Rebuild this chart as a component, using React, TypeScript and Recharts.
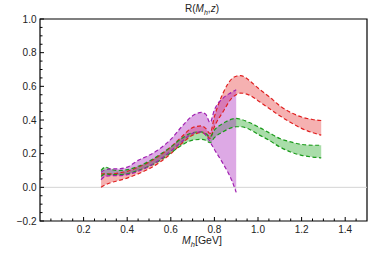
import React from 'react';
import { ComposedChart, Area, Line, XAxis, YAxis, ReferenceLine, ReferenceArea } from 'recharts';

const masses = [0.28, 0.30, 0.33, 0.36, 0.40, 0.45, 0.50, 0.55, 0.60, 0.65, 0.70, 0.74, 0.76, 0.78, 0.80, 0.84, 0.88, 0.90, 0.92, 0.96, 1.00, 1.05, 1.10, 1.15, 1.20, 1.25, 1.29];

const redLow = [0.0, 0.015, 0.03, 0.04, 0.055, 0.08, 0.11, 0.15, 0.20, 0.26, 0.31, 0.325, 0.315, 0.29, 0.36, 0.45, 0.53, 0.55, 0.56, 0.548, 0.515, 0.47, 0.425, 0.385, 0.35, 0.325, 0.31];
const redHigh = [0.08, 0.08, 0.08, 0.085, 0.095, 0.12, 0.15, 0.19, 0.24, 0.30, 0.355, 0.365, 0.35, 0.32, 0.42, 0.56, 0.645, 0.66, 0.664, 0.635, 0.59, 0.54, 0.485, 0.445, 0.418, 0.403, 0.397];

const greenLow = [0.065, 0.08, 0.075, 0.075, 0.08, 0.10, 0.125, 0.16, 0.205, 0.25, 0.28, 0.285, 0.28, 0.265, 0.295, 0.33, 0.355, 0.36, 0.36, 0.345, 0.315, 0.28, 0.24, 0.21, 0.19, 0.18, 0.175];
const greenHigh = [0.10, 0.12, 0.105, 0.10, 0.105, 0.125, 0.155, 0.195, 0.24, 0.29, 0.325, 0.33, 0.32, 0.30, 0.34, 0.38, 0.405, 0.41, 0.405, 0.385, 0.36, 0.325, 0.29, 0.27, 0.255, 0.25, 0.25];

// magenta band stops at 0.9
const magLow = [0.045, 0.065, 0.07, 0.07, 0.075, 0.095, 0.125, 0.165, 0.215, 0.27, 0.32, 0.33, 0.31, 0.27, 0.225, 0.14, 0.04, -0.03, null, null, null, null, null, null, null, null, null];
const magHigh = [0.09, 0.105, 0.11, 0.11, 0.12, 0.16, 0.19, 0.23, 0.285, 0.36, 0.425, 0.445, 0.435, 0.385, 0.46, 0.53, 0.565, 0.58, null, null, null, null, null, null, null, null, null];

const xTicks = [0.05, 0.1, 0.15, 0.2, 0.25, 0.3, 0.35, 0.4, 0.45, 0.5, 0.55, 0.6, 0.65, 0.7, 0.75, 0.8, 0.85, 0.9, 0.95, 1.0, 1.05, 1.1, 1.15, 1.2, 1.25, 1.3, 1.35, 1.4, 1.45];
const yTicks = [-0.2, -0.15, -0.1, -0.05, 0, 0.05, 0.1, 0.15, 0.2, 0.25, 0.3, 0.35, 0.4, 0.45, 0.5, 0.55, 0.6, 0.65, 0.7, 0.75, 0.8, 0.85, 0.9, 0.95, 1.0];

const rows = masses.map((m, i) => ({
  m,
  red: [redLow[i], redHigh[i]],
  green: [greenLow[i], greenHigh[i]],
  mag: magLow[i] === null ? null : [magLow[i], magHigh[i]],
  redLow: redLow[i],
  redHigh: redHigh[i],
  greenLow: greenLow[i],
  greenHigh: greenHigh[i],
  magLow: magLow[i],
  magHigh: magHigh[i],
}));

const font = '"Liberation Sans", Arial, sans-serif';
const isMajor = (v: number) => Math.abs(v * 5 - Math.round(v * 5)) < 1e-6;

const XTick = (props: any) => {
  const { x, y, payload } = props;
  const v = payload.value;
  const major = isMajor(v);
  return (
    <g>
      <line x1={x} y1={y} x2={x} y2={y - (major ? 4 : 2.5)} stroke="#000" strokeWidth={1} />
      {major && (
        <text x={x} y={y + 12} textAnchor="middle" fontSize={10} fill="#222" fontFamily={font}>
          {v.toFixed(1)}
        </text>
      )}
    </g>
  );
};

const YTick = (props: any) => {
  const { x, y, payload } = props;
  const v = payload.value;
  const major = isMajor(v);
  return (
    <g>
      <line x1={x} y1={y} x2={x + (major ? 4 : 2.5)} y2={y} stroke="#000" strokeWidth={1} />
      {major && (
        <text x={x - 3.5} y={y + 3.5} textAnchor="end" fontSize={10} fill="#222" fontFamily={font}>
          {v.toFixed(1).replace('-', '\u2212')}
        </text>
      )}
    </g>
  );
};

const dash = '4 2.5';

export default function App() {
  return (
    <div style={{ position: 'absolute', left: 0, top: 0, width: 382, height: 254, background: '#fff', fontFamily: font }}>
      <div style={{ position: 'absolute', left: 0, width: 382, top: 3, textAlign: 'center', fontSize: 10, color: '#222', paddingLeft: 22, boxSizing: 'border-box' }}>
        R(<i>M</i><sub style={{ fontSize: 7, fontStyle: 'italic' }}>h</sub>,<i>z</i>)
      </div>
      <ComposedChart width={382} height={254} data={rows} margin={{ top: 19, right: 15, bottom: 3, left: 0 }}>
        <XAxis dataKey="m" type="number" domain={[0, 1.5]} ticks={xTicks} interval={0} tickSize={0} tickMargin={0}
          tickLine={false} axisLine={false} height={30} tick={<XTick />} allowDataOverflow />
        <YAxis type="number" domain={[-0.2, 1]} ticks={yTicks} interval={0} tickSize={0} tickMargin={0}
          tickLine={false} axisLine={false} width={40} tick={<YTick />} allowDataOverflow />
        <ReferenceLine y={0} stroke="#d4d4d4" strokeWidth={1} />
        <Area type="monotone" dataKey="red" stroke="none" fill="rgb(230,60,60)" fillOpacity={0.4} isAnimationActive={false} />
        <Area type="monotone" dataKey="green" stroke="none" fill="rgb(40,170,40)" fillOpacity={0.4} isAnimationActive={false} />
        <Area type="monotone" dataKey="mag" stroke="none" fill="rgb(170,40,190)" fillOpacity={0.4} isAnimationActive={false} />
        <Line type="monotone" dataKey="redLow" stroke="#e02020" strokeWidth={1.2} strokeDasharray={dash} dot={false} isAnimationActive={false} />
        <Line type="monotone" dataKey="redHigh" stroke="#e02020" strokeWidth={1.2} strokeDasharray={dash} dot={false} isAnimationActive={false} />
        <Line type="monotone" dataKey="greenLow" stroke="#1a9a1a" strokeWidth={1.2} strokeDasharray={dash} dot={false} isAnimationActive={false} />
        <Line type="monotone" dataKey="greenHigh" stroke="#1a9a1a" strokeWidth={1.2} strokeDasharray={dash} dot={false} isAnimationActive={false} />
        <Line type="monotone" dataKey="magLow" stroke="#a020b0" strokeWidth={1.2} strokeDasharray={dash} dot={false} isAnimationActive={false} />
        <Line type="monotone" dataKey="magHigh" stroke="#a020b0" strokeWidth={1.2} strokeDasharray={dash} dot={false} isAnimationActive={false} />
        <ReferenceArea x1={0} x2={1.5} y1={-0.2} y2={1} fill="none" fillOpacity={0} stroke="#000" strokeWidth={1.2} />
      </ComposedChart>
      <div style={{ position: 'absolute', left: 0, width: 382, top: 234, textAlign: 'center', fontSize: 10.5, color: '#222', paddingLeft: 22, boxSizing: 'border-box' }}>
        <i>M</i><sub style={{ fontSize: 7.5, fontStyle: 'italic' }}>h</sub>[GeV]
      </div>
    </div>
  );
}
